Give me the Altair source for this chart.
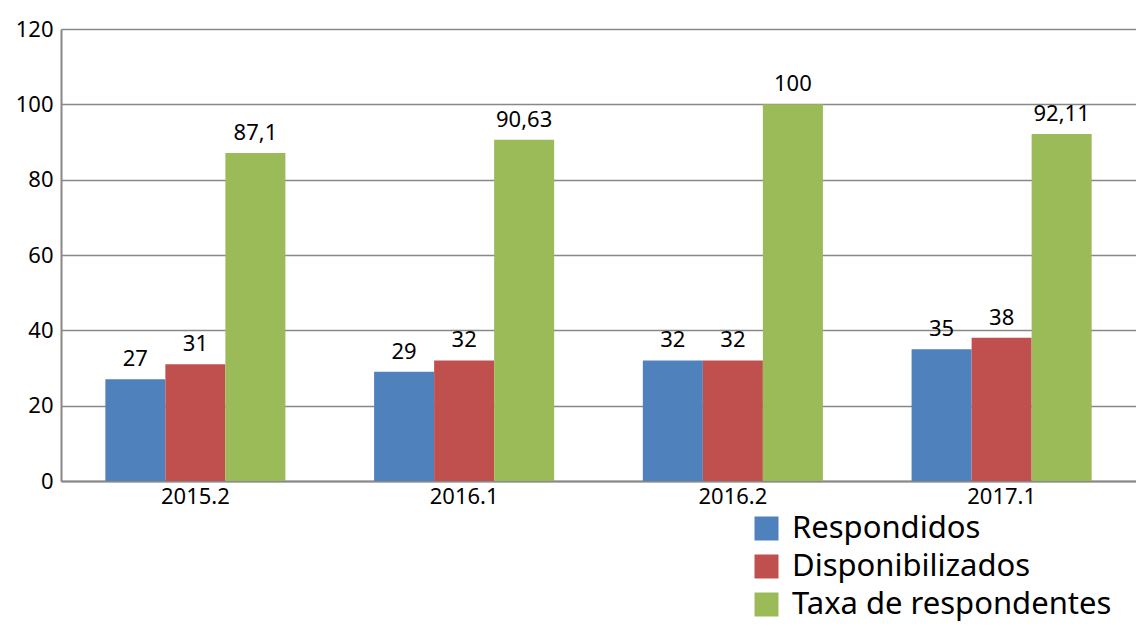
import altair as alt
import pandas as pd

periods = ["2015.2", "2016.1", "2016.2", "2017.1"]
series = ["Respondidos", "Disponibilizados", "Taxa de respondentes"]
respondidos = [27, 29, 32, 35]
disponibilizados = [31, 32, 32, 38]
taxa = [87.1, 90.63, 100, 92.11]
taxa_labels = ["87,1", "90,63", "100", "92,11"]
colors = ["#4F81BD", "#C0504D", "#9BBB59"]

rows = []
for i, p in enumerate(periods):
    rows.append({"periodo": p, "serie": series[0], "valor": respondidos[i], "rotulo": str(respondidos[i])})
    rows.append({"periodo": p, "serie": series[1], "valor": disponibilizados[i], "rotulo": str(disponibilizados[i])})
    rows.append({"periodo": p, "serie": series[2], "valor": taxa[i], "rotulo": taxa_labels[i]})
df = pd.DataFrame(rows)

FONT = "Noto Sans"

x = alt.X("periodo:N", sort=periods, title=None,
          scale=alt.Scale(paddingInner=0.33, paddingOuter=0.165),
          axis=alt.Axis(labelAngle=0, labelFontSize=22, labelFont=FONT, labelColor="black",
                        domainColor="#888888", domainWidth=2, ticks=False, labelPadding=5))
xo = alt.XOffset("serie:N", sort=series, scale=alt.Scale(paddingInner=0, paddingOuter=0))
y = alt.Y("valor:Q", title=None,
          scale=alt.Scale(domain=[0, 120], nice=False),
          axis=alt.Axis(values=[0, 20, 40, 60, 80, 100, 120], labelFontSize=22, labelFont=FONT,
                        labelColor="black", gridColor="#888888", gridWidth=1.5,
                        domainColor="#888888", domainWidth=2, ticks=False, labelPadding=8))

bars = alt.Chart(df).mark_bar().encode(
    x=x, xOffset=xo, y=y,
    color=alt.Color("serie:N", sort=series, scale=alt.Scale(domain=series, range=colors),
                    legend=alt.Legend(title=None, orient="none", legendX=690, legendY=484,
                                      symbolType="square", symbolSize=576, symbolStrokeWidth=0,
                                      labelFontSize=31, labelFont=FONT, labelColor="black",
                                      rowPadding=6, labelOffset=10, labelLimit=600,
                                      symbolOpacity=1)),
)

labels = alt.Chart(df).mark_text(baseline="bottom", dy=-8, fontSize=22, font=FONT, color="black").encode(
    x=alt.X("periodo:N", sort=periods), xOffset=alt.XOffset("serie:N", sort=series), y="valor:Q", text="rotulo:N"
)

chart = alt.layer(bars, labels).properties(
    width=1075, height=452,
    autosize=alt.AutoSizeParams(type="none"),
    padding={"left": 53, "top": 21, "right": 0, "bottom": 145},
).configure_view(stroke=None).configure(background="white")

chart.save("out.html", embed_options={"renderer": "svg", "actions": False})
